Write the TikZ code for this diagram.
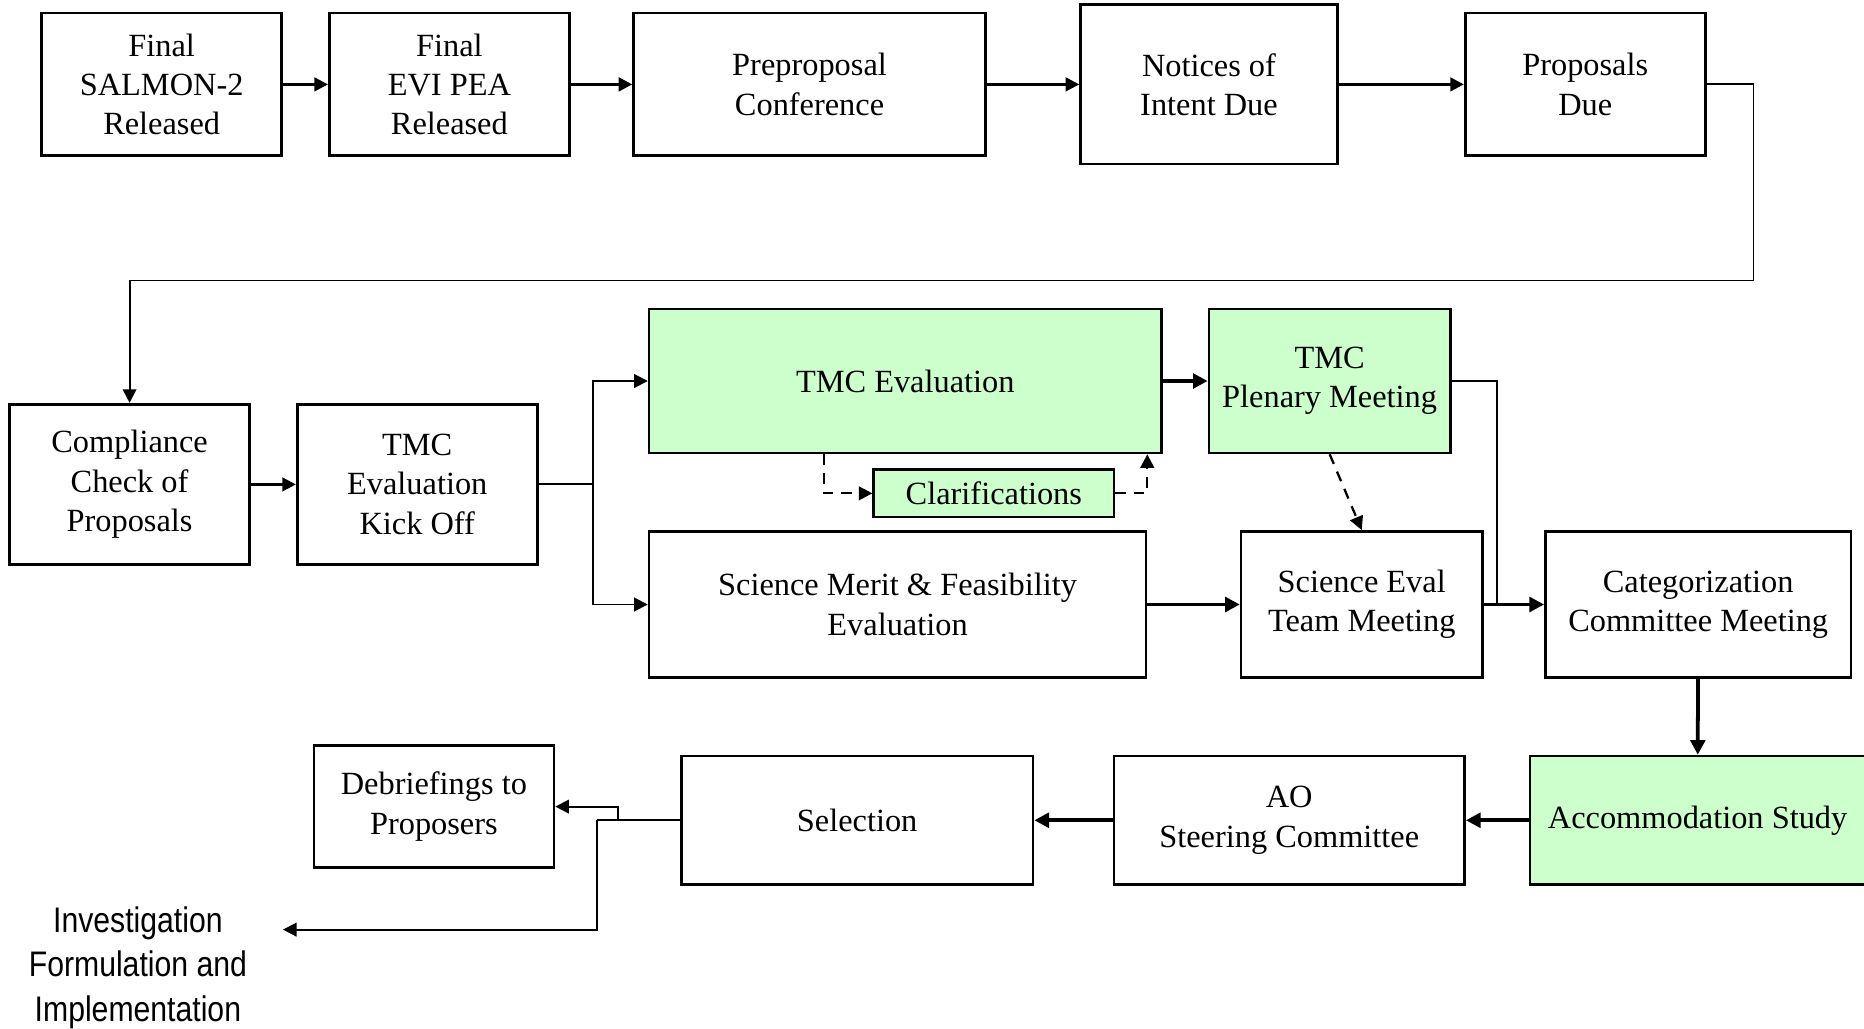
\documentclass[tikz,border=0pt]{standalone}
\usepackage{fontspec}
\setmainfont{Liberation Serif}
\newfontfamily\narrowsans[FakeStretch=0.85]{Liberation Sans}
\usepackage{xcolor}
\usepackage{tikz}
\usetikzlibrary{shapes, arrows.meta, positioning}
\definecolor{tmcgreen}{RGB}{204,255,204}

\begin{document}
\begin{tikzpicture}[x=0.02cm, y=-0.02cm,
                box/.style={draw, rectangle, line width=1.3pt, minimum width=4.04cm, minimum height=2.4cm, align=center, inner sep=2pt, font=\fontsize{15.5}{18.8}\selectfont},
                arr/.style={-{Triangle[length=6.5pt, width=6.5pt]}, line width=1.3pt},
                thinarr/.style={-{Triangle[length=6.5pt, width=6.5pt]}, line width=0.9pt},
                thickarr/.style={-{Triangle[length=7pt, width=7pt]}, line width=1.8pt},
                dasharr/.style={-{Triangle[length=6.5pt, width=6.5pt]}, line width=1.1pt, dash pattern=on 5pt off 4pt}]
                \useasboundingbox (0,0) rectangle (1568,865);

                \node[box] (salmon) at (136,71) {Final\\SALMON-2\\Released};
                \node[box] (evipea) at (378,71) {Final\\EVI PEA\\Released};
                \node[box, minimum width=5.92cm] (preconf) at (681,71) {Preproposal\\Conference};
                \node[box, minimum width=4.32cm, minimum height=2.68cm] (intent) at (1017,71) {Notices of\\Intent Due};
                \node[box] (propdue) at (1333.5,71) {Proposals\\Due};

                \node[box, minimum height=2.7cm] (compl) at (109,407.5) {Compliance\\Check of\\Proposals};
                \node[box, minimum height=2.7cm] (kickoff) at (351,407.5) {TMC\\Evaluation\\Kick Off};
                \node[box, fill=tmcgreen, minimum width=8.62cm, minimum height=2.42cm] (tmceval) at (761.5,320.5) {TMC Evaluation};
                \node[box, fill=tmcgreen, minimum width=4.06cm, minimum height=2.42cm] (plenary) at (1118.5,320.5) {TMC\\Plenary Meeting};
                \node[box, fill=tmcgreen, minimum height=0.8cm] (clarif) at (836,415) {Clarifications};
                \node[box, minimum width=8.36cm, minimum height=2.46cm] (scimerit) at (755,508.5) {Science Merit \& Feasibility\\Evaluation};
                \node[box, minimum width=4.06cm, minimum height=2.46cm] (sciteam) at (1145.5,508.5) {Science Eval\\Team Meeting};
                \node[box, minimum width=5.14cm, minimum height=2.46cm] (catcom) at (1428.5,508.5) {Categorization\\Committee Meeting};

                \node[box, fill=tmcgreen, minimum width=5.64cm, minimum height=2.16cm] (accom) at (1428,690) {Accommodation Study};
                \node[box, minimum width=5.9cm, minimum height=2.16cm] (steering) at (1084.5,690) {AO\\Steering Committee};
                \node[box, minimum width=5.92cm, minimum height=2.16cm] (select) at (721,690) {Selection};
                \node[box, minimum height=2.06cm] (debrief) at (365,678.5) {Debriefings to\\Proposers};
                \node[align=center, font=\narrowsans\fontsize{17}{21.3}\selectfont] (invest) at (116,814) {Investigation\\Formulation and\\Implementation};

                \coordinate (wrap) at (1475,236);
                \coordinate (fork) at (499,407.5);
                \coordinate (merge) at (1259,508.5);
                \coordinate (split1) at (520,690);
                \coordinate (split2) at (502,690);
                \coordinate (investin) at (238,782);

                \draw[arr] (salmon) -- (evipea);
                \draw[arr] (evipea) -- (preconf);
                \draw[arr] (preconf) -- (intent);
                \draw[arr] (intent) -- (propdue);
                \draw[thinarr] (propdue.east) -| (wrap) -| (compl.north);

                \draw[arr] (compl) -- (kickoff);
                \draw[thinarr] (kickoff.east) -- (fork) |- (tmceval.west);
                \draw[thinarr] (fork) |- (scimerit.west);
                \draw[thickarr] (tmceval) -- (plenary);
                \draw[dasharr] ([xshift=-1.37cm]tmceval.south) |- (clarif.west);
                \draw[dasharr] (clarif.east) -| ([xshift=-0.26cm]tmceval.south east);
                \draw[dasharr] (plenary.south) -- (sciteam.north);
                \draw[thickarr] (scimerit) -- (sciteam);
                \draw[thickarr] (sciteam) -- (catcom);
                \draw[line width=0.9pt] (plenary.east) -| (merge);
                \draw[thickarr] (catcom) -- (accom);

                \draw[thickarr] (accom) -- (steering);
                \draw[thickarr] (steering) -- (select);
                \draw[line width=0.9pt] (select.west) -- (split2);
                \draw[thinarr] (split1) |- (debrief.east);
                \draw[thinarr] (split2) |- (investin);
            \end{tikzpicture}
\end{document}
